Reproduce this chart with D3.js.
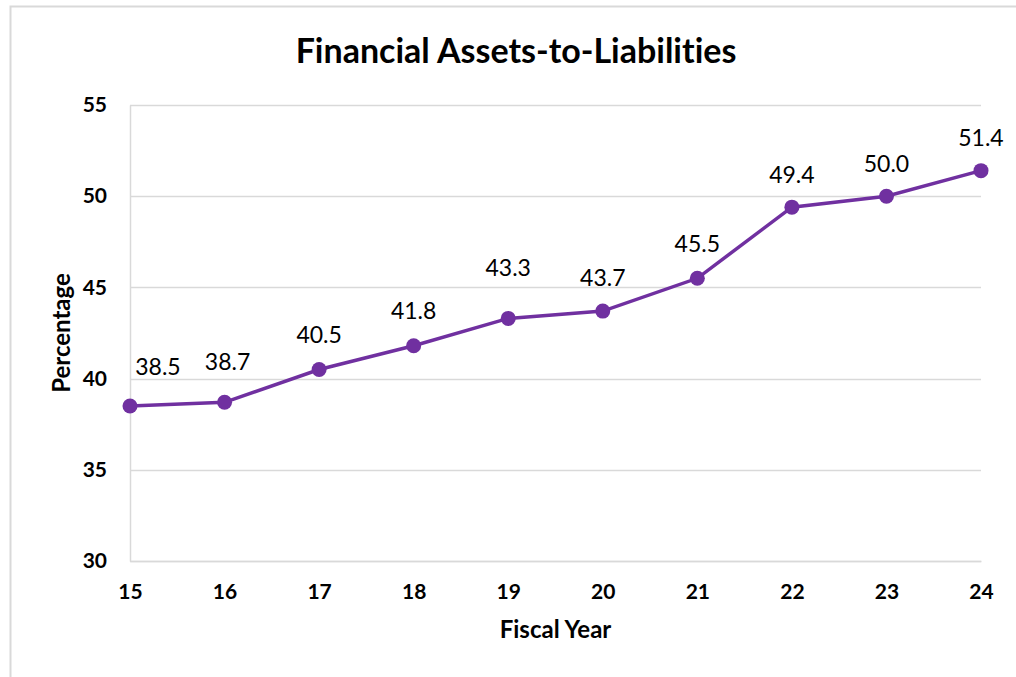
<!DOCTYPE html>
<html>
<head>
<meta charset="utf-8">
<script src="https://cdn.jsdelivr.net/npm/d3@7"></script>
<style>
	body { margin: 0; background: #fff; }
	text { font-family: Lato, "Open Sans", sans-serif; font-variant-ligatures: none; }
</style>
</head>
<body>
<div id="chart"></div>
<script>
// data
var years = ["15", "16", "17", "18", "19", "20", "21", "22", "23", "24"];
var ratios = [38.5, 38.7, 40.5, 41.8, 43.3, 43.7, 45.5, 49.4, 50.0, 51.4];
var yTicks = [30, 35, 40, 45, 50, 55];

var cfg = {
	w: 1016,
	h: 677,
	margin: {top: 105, right: 35, bottom: 116, left: 130},
	color: "#7030a0",
	grid: "#d9d9d9",
	// label nudges (dx, baseline above point) as placed in the original
	labelDx: [28, 3, 0, 0, 0, 0, 0, 0, 0, 0],
	labelDy: [31, 32, 26, 27, 42, 25, 26, 24, 24, 25]
};

const graphW = cfg.w - cfg.margin.left - cfg.margin.right;
const graphH = cfg.h - cfg.margin.top - cfg.margin.bottom;

var root = d3.select("#chart")
	.append("svg")
	.attr("width", cfg.w)
	.attr("height", cfg.h);

// outer chart border
root.append("rect")
	.attr("x", 10.5)
	.attr("y", 6.5)
	.attr("width", 1030)
	.attr("height", 700)
	.attr("fill", "none")
	.attr("stroke", cfg.grid)
	.attr("stroke-width", 2);

root.append("text")
	.attr("x", 516)
	.attr("y", 63)
	.attr("text-anchor", "middle")
	.style("font-size", "34px")
	.style("font-weight", "bold")
	.text("Financial Assets-to-Liabilities");

var svg = root.append("g")
	.attr("transform", "translate(" + cfg.margin.left + "," + cfg.margin.top + ")");

var x = d3.scalePoint()
	.domain(years)
	.range([0, graphW]);

var y = d3.scaleLinear()
	.domain([30, 55])
	.range([graphH, 0]);

// gridlines
svg.append("g")
	.selectAll("line")
	.data(yTicks)
	.enter()
	.append("line")
		.attr("x1", 0)
		.attr("x2", graphW)
		.attr("y1", function(d) { return Math.round(y(d)) + 0.5; })
		.attr("y2", function(d) { return Math.round(y(d)) + 0.5; })
		.attr("stroke", cfg.grid)
		.attr("stroke-width", 1.5);

// axes
var yAxis = svg.append("g")
	.call(d3.axisLeft(y).tickValues(yTicks).tickSize(0).tickPadding(23));
yAxis.select(".domain").attr("stroke", cfg.grid).attr("stroke-width", 1.5);

var xAxis = svg.append("g")
	.attr("transform", "translate(0," + graphH + ")")
	.call(d3.axisBottom(x).tickSize(0).tickPadding(23));
xAxis.select(".domain").attr("stroke", cfg.grid).attr("stroke-width", 1.5);

root.selectAll(".tick text")
	.style("font-family", "Lato, 'Open Sans', sans-serif")
	.style("font-size", "21px")
	.style("font-weight", "bold")
	.attr("fill", "#000");

// axis titles
svg.append("text")
	.attr("x", graphW / 2)
	.attr("y", graphH + 77)
	.attr("text-anchor", "middle")
	.style("font-size", "24px")
	.style("font-weight", "bold")
	.text("Fiscal Year");

svg.append("text")
	.attr("transform", "translate(-60," + (graphH / 2) + ") rotate(-90)")
	.attr("text-anchor", "middle")
	.style("font-size", "24px")
	.style("font-weight", "bold")
	.text("Percentage");

// line + markers
var line = d3.line()
	.x(function(d, i) { return x(years[i]); })
	.y(function(d) { return y(d); });

svg.append("path")
	.datum(ratios)
	.attr("d", line)
	.attr("fill", "none")
	.attr("stroke", cfg.color)
	.attr("stroke-width", 3.5);

svg.selectAll("circle")
	.data(ratios)
	.enter()
	.append("circle")
		.attr("cx", function(d, i) { return x(years[i]); })
		.attr("cy", function(d) { return y(d); })
		.attr("r", 7.5)
		.attr("fill", cfg.color);

// data labels
svg.selectAll(".label")
	.data(ratios)
	.enter()
	.append("text")
		.attr("class", "label")
		.attr("x", function(d, i) { return x(years[i]) + cfg.labelDx[i]; })
		.attr("y", function(d, i) { return y(d) - cfg.labelDy[i]; })
		.attr("text-anchor", "middle")
		.style("font-size", "23px")
		.attr("fill", "#000")
		.text(function(d) { return d.toFixed(1); });
</script>
</body>
</html>
